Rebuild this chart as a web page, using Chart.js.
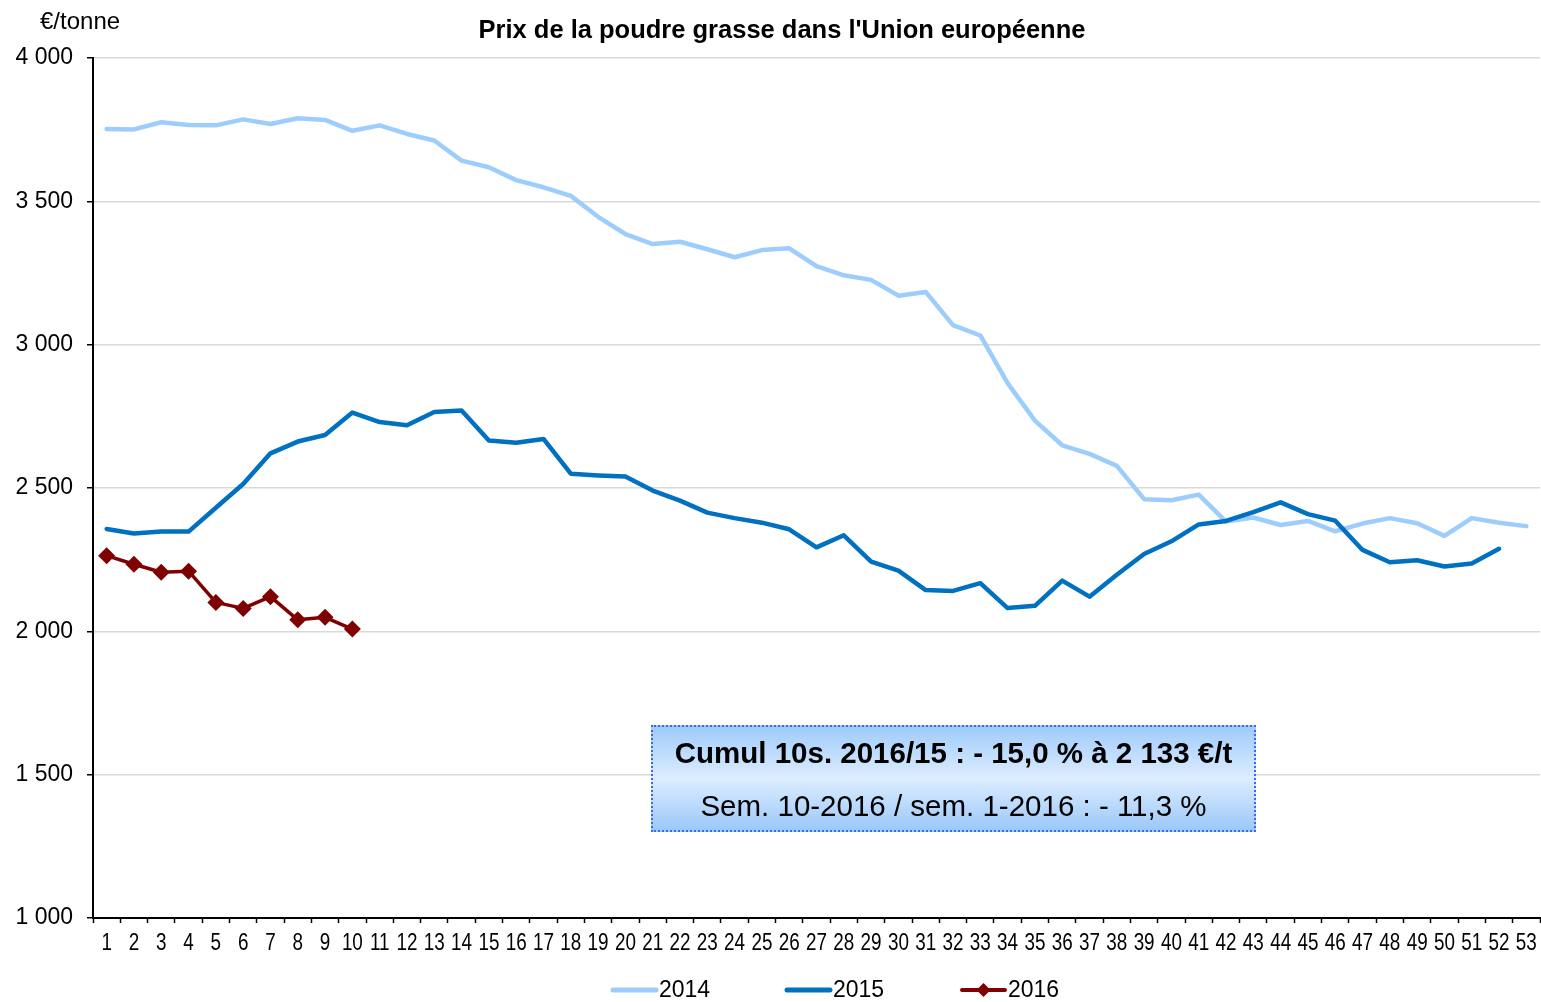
<!DOCTYPE html>
<html>
<head>
<meta charset="utf-8">
<script src="https://cdn.jsdelivr.net/npm/chart.js@4.4.0/dist/chart.umd.min.js"></script>
<style>
html,body{margin:0;padding:0;background:#fff;overflow:hidden;}
#wrap{position:relative;width:1541px;height:1002px;overflow:hidden;}
canvas{display:block;}
#note{position:absolute;left:651px;top:725px;width:601px;height:103px;border:2px dotted #3a68f2;
  background:linear-gradient(to bottom,#a0cbfb 0%,#dcedff 50%,#9cc8f9 100%);
  font-family:"Liberation Sans",Arial,sans-serif;color:#000;text-align:center;white-space:nowrap;}
#note .l1{position:absolute;left:0;right:0;top:9px;font-weight:bold;font-size:29.5px;line-height:34px;}
#note .l2{position:absolute;left:0;right:0;top:62px;font-size:29.5px;line-height:34px;}
</style>
</head>
<body>
<div id="wrap">
<canvas id="c" width="1541" height="1002"></canvas>
<div id="note"><div class="l1">Cumul 10s. 2016/15 : - 15,0 % à 2 133 €/t</div><div class="l2">Sem. 10-2016 / sem. 1-2016 : - 11,3 %</div></div>
</div>
<script>
// ---- data ----
const weeks = ["1","2","3","4","5","6","7","8","9","10","11","12","13","14","15","16","17","18","19","20","21","22","23","24","25","26","27","28","29","30","31","32","33","34","35","36","37","38","39","40","41","42","43","44","45","46","47","48","49","50","51","52","53"];
const seriesLabels = ["2014","2015","2016"];
const prix2014 = [3752,3751,3776,3766,3765,3786,3770,3790,3784,3746,3765,3735,3712,3642,3619,3574,3549,3519,3446,3386,3351,3359,3333,3305,3330,3336,3274,3242,3226,3171,3184,3068,3032,2866,2735,2649,2619,2577,2461,2457,2477,2383,2397,2371,2385,2349,2376,2395,2377,2333,2395,2379,2367];
const prix2015 = [2357,2341,2348,2348,2431,2514,2621,2662,2685,2763,2730,2719,2765,2770,2666,2658,2671,2550,2544,2540,2491,2456,2414,2395,2379,2356,2293,2335,2243,2212,2144,2141,2168,2081,2089,2177,2121,2197,2270,2314,2373,2385,2416,2450,2409,2386,2284,2241,2248,2226,2237,2288];
const prix2016 = [2264,2234,2206,2210,2101,2080,2121,2040,2049,2008];
const yTicks = [1000,1500,2000,2500,3000,3500,4000];
const chartTitle = "Prix de la poudre grasse dans l'Union européenne";
const unitLabel = "€/tonne";

// ---- styles ----
const FONT = '"Liberation Sans", Arial, sans-serif';
const colors = {"2014":"#9dcdfd","2015":"#0070c0","2016":"#7f0000"};

function fmt(v){ return String(v).replace(/\B(?=(\d{3})+(?!\d))/g,' '); }

const decor = {
  id:'decor',
  afterDraw(chart){
    const ctx=chart.ctx;
    ctx.save();
    ctx.fillStyle='#000';
    ctx.textBaseline='middle';
    ctx.font='bold 25.5px '+FONT;
    ctx.textAlign='center';
    ctx.fillText(chartTitle, 782, 31);
    ctx.font='24px '+FONT;
    ctx.textAlign='left';
    ctx.fillText(unitLabel, 40, 22);
    // condensed x tick labels, positioned by the category scale
    const xs=chart.scales.x;
    ctx.font='23px '+FONT; ctx.textAlign='center';
    xs.ticks.forEach((t,i)=>{
      const px=xs.getPixelForTick(i);
      ctx.save(); ctx.translate(px,944); ctx.scale(0.82,1);
      ctx.fillText(xs.getLabelForValue(t.value),0,0);
      ctx.restore();
    });
    // legend
    const starts=[613,787,962];
    chart.data.datasets.forEach((ds,i)=>{
      const x=starts[i], y=990;
      ctx.strokeStyle=ds.borderColor; ctx.lineWidth=ds.borderWidth+0.5; ctx.lineCap='round';
      ctx.beginPath(); ctx.moveTo(x,y); ctx.lineTo(x+43,y); ctx.stroke();
      if(ds.pointRadius>0){
        const r=ds.pointRadius-1.5, cx=x+21.5;
        ctx.fillStyle=ds.pointBackgroundColor;
        ctx.beginPath(); ctx.moveTo(cx,y-r); ctx.lineTo(cx+r,y); ctx.lineTo(cx,y+r); ctx.lineTo(cx-r,y); ctx.closePath(); ctx.fill();
      }
      ctx.fillStyle='#000'; ctx.font='23px '+FONT; ctx.textAlign='left';
      ctx.fillText(ds.label, x+46, y+1);
    });
    ctx.restore();
  }
};

new Chart(document.getElementById('c'),{
  type:'line',
  data:{
    labels:weeks,
    datasets:[
      {label:seriesLabels[0],data:prix2014,borderColor:colors["2014"],backgroundColor:colors["2014"],borderWidth:4.5,pointRadius:0,order:2},
      {label:seriesLabels[1],data:prix2015,borderColor:colors["2015"],backgroundColor:colors["2015"],borderWidth:4.5,pointRadius:0,order:1},
      {label:seriesLabels[2],data:prix2016,borderColor:colors["2016"],backgroundColor:colors["2016"],pointBackgroundColor:colors["2016"],pointBorderColor:colors["2016"],borderWidth:3.5,pointRadius:8.5,pointBorderWidth:0,pointStyle:'rectRot',order:0}
    ]
  },
  options:{
    responsive:false,
    animation:false,
    layout:{autoPadding:false,padding:{top:58,left:0,right:1,bottom:44}},
    elements:{line:{tension:0,borderCapStyle:'round',borderJoinStyle:'round'}},
    plugins:{legend:{display:false},title:{display:false},tooltip:{enabled:false}},
    scales:{
      x:{
        offset:true,
        grid:{offset:true,drawOnChartArea:false,drawTicks:true,tickLength:5,tickColor:'#000',tickWidth:1.5},
        border:{color:'#000',width:2},
        ticks:{display:false,autoSkip:false,maxRotation:0,minRotation:0},
        afterFit(s){ s.height=40; s.paddingLeft=0; s.paddingRight=0; }
      },
      y:{
        min:1000,max:4000,
        afterBuildTicks(s){ s.ticks=yTicks.map(v=>({value:v})); },
        grid:{color:'#d9d9d9',lineWidth:1.5,drawTicks:true,tickLength:6,tickColor:'#000',tickWidth:1.5},
        border:{color:'#000',width:2},
        ticks:{color:'#000',font:{family:FONT,size:23},padding:14,callback:v=>fmt(v)},
        afterFit(s){ s.width=93; s.paddingTop=0; s.paddingBottom=0; }
      }
    }
  },
  plugins:[decor]
});
</script>
</body>
</html>
